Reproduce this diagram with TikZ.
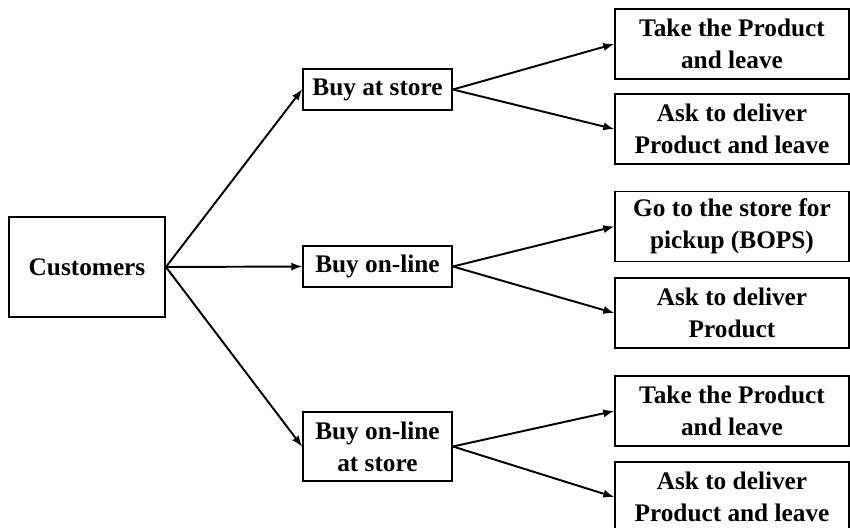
\documentclass[tikz,border=0pt]{standalone}
\usepackage{fontspec}
\setmainfont{Liberation Serif}
\begin{document}
\begin{tikzpicture}[>=latex, x=0.02cm, y=-0.02cm, line width=1.1pt,
  box/.style={draw, align=center, inner sep=0pt, font=\fontsize{14.4}{18.2}\selectfont\bfseries},
  mid/.style={box, minimum width=2.98cm, minimum height=0.82cm},
  leaf/.style={box, minimum width=4.68cm, minimum height=1.4cm}]
  \useasboundingbox (0,0) rectangle (850,528);

  % Kunden
  \node[box, minimum width=3.12cm, minimum height=2cm] (cust) at (87,267) {Customers};

  % Kaufwege
  \node[mid] (store) at (377.5,89.5) {Buy at store};
  \node[mid] (online) at (377.5,266.5) {Buy on-line};
  \node[mid, minimum height=1.38cm] (onstore) at (377.5,446.5) {Buy on-line\\at store};

  % Abholung / Lieferung
  \node[leaf] (take1) at (732,44) {Take the Product\\and leave};
  \node[leaf] (deliv1) at (732,129) {Ask to deliver\\Product and leave};
  \node[leaf] (pickup) at (732,226.5) {Go to the store for\\pickup (BOPS)};
  \node[leaf] (deliv2) at (732,313) {Ask to deliver\\Product};
  \node[leaf] (take2) at (732,411) {Take the Product\\and leave};
  \node[leaf] (deliv3) at (732,497) {Ask to deliver\\Product and leave};

  % Pfeile
  \draw[->] (cust.east) -- (store.west);
  \draw[->] (cust.east) -- (online.west);
  \draw[->] (cust.east) -- (onstore.west);
  \draw[->] (store.east) -- (take1.west);
  \draw[->] (store.east) -- (deliv1.west);
  \draw[->] (online.east) -- (pickup.west);
  \draw[->] (online.east) -- (deliv2.west);
  \draw[->] (onstore.east) -- (take2.west);
  \draw[->] (onstore.east) -- (deliv3.west);
\end{tikzpicture}
\end{document}
